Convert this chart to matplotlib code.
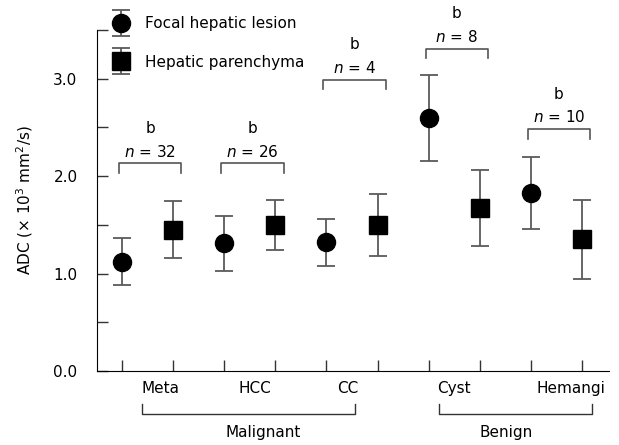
import matplotlib
matplotlib.use("Agg")
import matplotlib.pyplot as plt
from matplotlib.legend_handler import HandlerErrorbar
from matplotlib.transforms import blended_transform_factory

# data
groups = ["Meta", "HCC", "CC", "Cyst", "Hemangi"]
lesion_mean = [1.12, 1.31, 1.32, 2.60, 1.83]
lesion_err = [0.24, 0.28, 0.24, 0.44, 0.37]
paren_mean = [1.45, 1.50, 1.50, 1.67, 1.35]
paren_err = [0.29, 0.26, 0.32, 0.39, 0.41]
n_cases = [32, 26, 4, 8, 10]
bracket_level = [2.13, 2.13, 2.99, 3.31, 2.48]
signif = ["b", "b", "b", "b", "b"]
supergroups = ["Malignant", "Benign"]

plt.rcParams["font.family"] = "DejaVu Sans"
plt.rcParams["font.size"] = 11
fs = 11

fig = plt.figure(figsize=(6.19, 4.45), dpi=100)
ax = fig.add_axes([0.1567, 0.1663, 0.8272, 0.7663])

lx = [1 + 2 * i for i in range(len(groups))]
px = [2 + 2 * i for i in range(len(groups))]
ecol = "#5a5a5a"
h1 = ax.errorbar(lx, lesion_mean, yerr=lesion_err, fmt="o", color="black", ms=13,
                 ecolor=ecol, elinewidth=1.3, capsize=6.5, capthick=1.3, zorder=3)
h2 = ax.errorbar(px, paren_mean, yerr=paren_err, fmt="s", color="black", ms=12.5,
                 ecolor=ecol, elinewidth=1.3, capsize=6.5, capthick=1.3, zorder=3)

# brackets with n and significance mark
for i in range(len(groups)):
    c = lx[i] + 0.55
    x0, x1 = c - 0.61, c + 0.61
    yb = bracket_level[i]
    ax.plot([x0, x0, x1, x1], [yb - 0.1, yb, yb, yb - 0.1], color="#555555", lw=1.2,
            clip_on=False)
    ax.text(c, yb + 0.04, r"$n$ = %d" % n_cases[i], ha="center", va="bottom",
            fontsize=fs, clip_on=False)
    ax.text(c, yb + 0.28, signif[i], ha="center", va="bottom", fontsize=fs,
            clip_on=False)

ax.set_xlim(0.51, 10.53)
ax.set_ylim(0, 3.5)
ax.set_xticks(range(1, 11))
ax.set_xticklabels([])
ax.set_yticks([0, 1, 2, 3])
ax.set_yticklabels(["0.0", "1.0", "2.0", "3.0"])
ax.set_yticks([0.5, 1.5, 2.5, 3.5], minor=True)
ax.tick_params(axis="both", which="both", direction="in", length=8, width=1.0,
               color="#333333")
ax.tick_params(axis="y", pad=14, labelsize=fs)
ax.spines["top"].set_visible(False)
ax.spines["right"].set_visible(False)
ax.set_ylabel(r"ADC ($\times$ 10$^3$ mm$^2$/s)", fontsize=fs, labelpad=13)

# category labels and group brackets under the axis
tr = blended_transform_factory(ax.transData, ax.transAxes)
label_pos = [1.76, 3.60, 5.42, 7.50, 9.78]
for g, xp in zip(groups, label_pos):
    ax.text(xp, -0.05, g, ha="center", va="center", transform=tr, fontsize=fs)

brk = [(1.39, 5.56), (7.20, 10.20)]
brk_text = [3.76, 8.51]
for name, (a, b), t in zip(supergroups, brk, brk_text):
    ax.plot([a, a, b, b], [-0.097, -0.126, -0.126, -0.097], color="#333333", lw=1.0,
            transform=tr, clip_on=False)
    ax.text(t, -0.179, name, ha="center", va="center", transform=tr, fontsize=fs)

leg = ax.legend([h1, h2], ["Focal hepatic lesion", "Hepatic parenchyma"],
                loc="upper left", bbox_to_anchor=(114 / 619, 1 - 16 / 445),
                bbox_transform=fig.transFigure, frameon=False, numpoints=1,
                handlelength=0.95, handletextpad=1.05, labelspacing=1.55, borderpad=0,
                borderaxespad=0, fontsize=fs,
                handler_map={type(h1): HandlerErrorbar(yerr_size=0.85)})

fig.savefig("out.png", dpi=100)
